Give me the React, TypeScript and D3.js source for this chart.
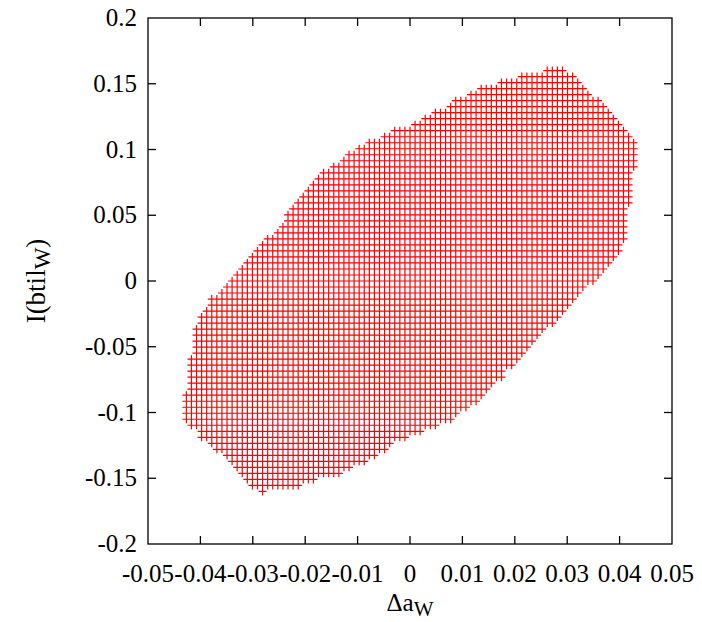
import React from "react";
import * as d3 from "d3";

// lattice of the scan (column spacing in Δa_W, row spacing in I(btil_W))
const colStep = 0.00097;
const rowStep = 0.16 / 35;
// column indices, left to right
const colIndex = d3.range(-44, 45);
// upper edge of the filled region per column
const colTop = [
  -0.088, -0.058, -0.035, -0.028, -0.022, -0.016, -0.012, -0.008, -0.004, 0.0,
  0.004, 0.008, 0.012, 0.016, 0.021, 0.026, 0.03, 0.034, 0.038, 0.043,
  0.048, 0.054, 0.058, 0.063, 0.068, 0.072, 0.076, 0.08, 0.083, 0.086,
  0.089, 0.091, 0.094, 0.097, 0.1, 0.102, 0.104, 0.105, 0.106, 0.108,
  0.11, 0.112, 0.114, 0.115, 0.116, 0.118, 0.12, 0.122, 0.124, 0.126,
  0.128, 0.13, 0.133, 0.135, 0.137, 0.139, 0.14, 0.142, 0.145, 0.146,
  0.147, 0.148, 0.149, 0.149, 0.151, 0.152, 0.154, 0.155, 0.156, 0.156,
  0.157, 0.158, 0.159, 0.16, 0.158, 0.156, 0.155, 0.15, 0.146, 0.141,
  0.138, 0.135, 0.131, 0.126, 0.124, 0.12, 0.116, 0.11, 0.105,
];
// lower edge of the filled region per column
const colBottom = [
  -0.104, -0.108, -0.111, -0.119, -0.12, -0.123, -0.126, -0.13, -0.134, -0.138,
  -0.14, -0.145, -0.15, -0.155, -0.155, -0.16, -0.156, -0.155, -0.155, -0.155,
  -0.155, -0.155, -0.155, -0.152, -0.15, -0.149, -0.148, -0.147, -0.146, -0.145,
  -0.145, -0.142, -0.14, -0.139, -0.137, -0.135, -0.134, -0.132, -0.13, -0.127,
  -0.124, -0.121, -0.119, -0.118, -0.116, -0.115, -0.114, -0.111, -0.109, -0.108,
  -0.107, -0.105, -0.103, -0.1, -0.098, -0.095, -0.093, -0.09, -0.086, -0.083,
  -0.079, -0.075, -0.071, -0.066, -0.062, -0.058, -0.054, -0.049, -0.044, -0.04,
  -0.036, -0.033, -0.03, -0.026, -0.022, -0.018, -0.014, -0.01, -0.006, -0.002,
  0.002, 0.006, 0.01, 0.014, 0.018, 0.022, 0.03, 0.058, 0.088,
];
const xTicks = [-0.05, -0.04, -0.03, -0.02, -0.01, 0, 0.01, 0.02, 0.03, 0.04, 0.05];
const yTicks = [-0.2, -0.15, -0.1, -0.05, 0, 0.05, 0.1, 0.15, 0.2];

export default function App() {
  const width = 702;
  const height = 622;
  const left = 148;
  const right = 672;
  const top = 18;
  const bottom = 544;
  const tickLen = 8;
  const mark = 4;

  const x = d3.scaleLinear().domain([-0.05, 0.05]).range([left, right]);
  const y = d3.scaleLinear().domain([-0.2, 0.2]).range([bottom, top]);

  // every lattice point between the column's lower and upper edge
  const points: [number, number][] = [];
  colIndex.forEach((c, i) => {
    const k0 = Math.round(colBottom[i] / rowStep);
    const k1 = Math.round(colTop[i] / rowStep);
    for (let k = k0; k <= k1; k++) points.push([c * colStep, k * rowStep]);
  });

  const markPath = points
    .map(([px, py]) => {
      const cx = x(px);
      const cy = y(py);
      return `M${cx - mark},${cy}h${2 * mark}M${cx},${cy - mark}v${2 * mark}`;
    })
    .join("");

  // gnuplot style labels: plain hyphen, no trailing zeros
  const fmt = (v: number) => String(+v.toFixed(2));
  const font = "'Liberation Serif', 'Times New Roman', serif";

  return (
    <svg
      width={width}
      height={height}
      style={{ position: "absolute", left: 0, top: 0, background: "#fff" }}
      fontFamily={font}
    >
      <path d={markPath} stroke="#ff0000" strokeWidth={1.2} fill="none" />

      <g stroke="#000" strokeWidth={1.3}>
        {xTicks.slice(1, -1).map((t) => (
          <g key={"xt" + t}>
            <line x1={x(t)} x2={x(t)} y1={bottom} y2={bottom - tickLen} />
            <line x1={x(t)} x2={x(t)} y1={top} y2={top + tickLen} />
          </g>
        ))}
        {yTicks.slice(1, -1).map((t) => (
          <g key={"yt" + t}>
            <line x1={left} x2={left + tickLen} y1={y(t)} y2={y(t)} />
            <line x1={right} x2={right - tickLen} y1={y(t)} y2={y(t)} />
          </g>
        ))}
        <rect x={left} y={top} width={right - left} height={bottom - top} fill="none" />
      </g>

      <g fontSize={25} fill="#000">
        {xTicks.map((t) => (
          <text key={"xl" + t} x={x(t)} y={bottom + 38} textAnchor="middle">
            {fmt(t)}
          </text>
        ))}
        {yTicks.map((t) => (
          <text key={"yl" + t} x={left - 11} y={y(t) + 8} textAnchor="end">
            {fmt(t)}
          </text>
        ))}
      </g>

      <text x={(left + right) / 2} y={611} textAnchor="middle" fontSize={25}>
        Δa<tspan fontSize={21} dy={5}>W</tspan>
      </text>
      <text
        transform={`translate(45,${(top + bottom) / 2}) rotate(-90)`}
        textAnchor="middle"
        fontSize={27}
      >
        I(btil<tspan fontSize={23} dy={5}>W</tspan>
        <tspan dy={-5}>)</tspan>
      </text>
    </svg>
  );
}
